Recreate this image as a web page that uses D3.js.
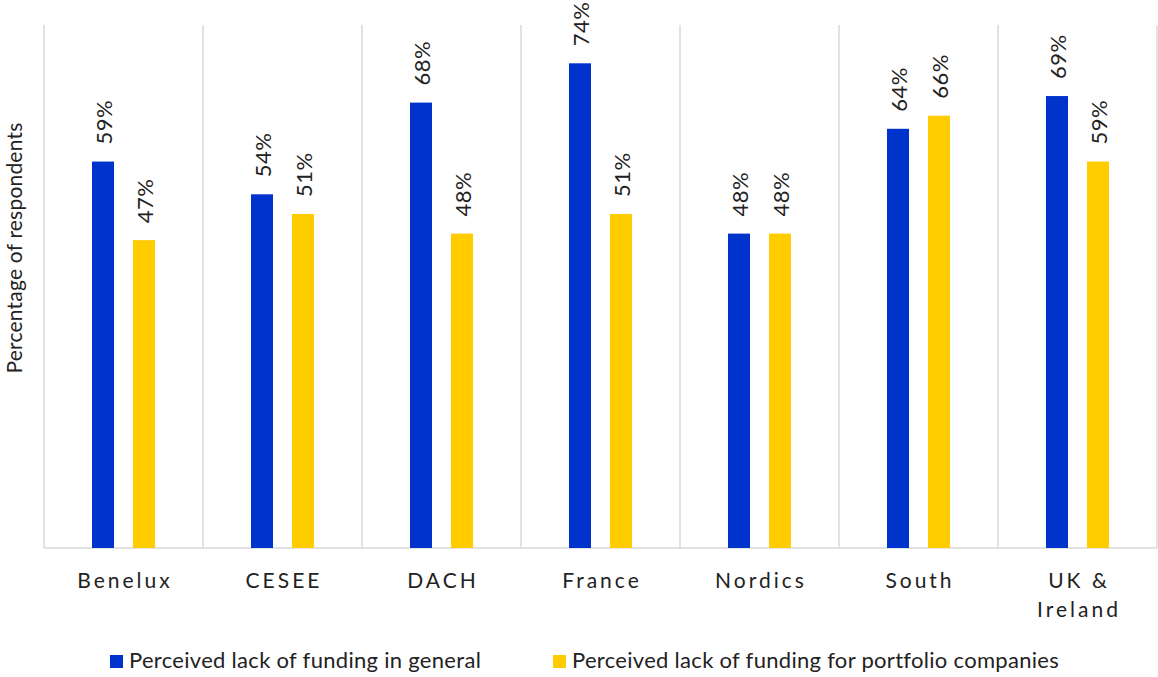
<!DOCTYPE html>
<html>
<head>
<meta charset="utf-8">
<script src="https://cdn.jsdelivr.net/npm/d3@7"></script>
<style>
  body { margin: 0; background: #fff; }
  text { font-family: Lato, "Open Sans", sans-serif; font-weight: 400; fill: #222; }
</style>
</head>
<body>
<div id="chart"></div>
<script>
// data
var regions   = ['Benelux', 'CESEE', 'DACH', 'France', 'Nordics', 'South', 'UK & Ireland']
var general   = [0.59, 0.54, 0.68, 0.74, 0.48, 0.64, 0.69]
var portfolio = [0.47, 0.51, 0.48, 0.51, 0.48, 0.66, 0.59]
var seriesNames  = ['Perceived lack of funding in general', 'Perceived lack of funding for portfolio companies']
var seriesColors = ['#0033cc', '#ffcc00']

var W = 1158, H = 677
var margin = {top: 24, right: 1, bottom: 129, left: 44}
var width  = W - margin.left - margin.right,
    height = H - margin.top - margin.bottom

var svg = d3.select('#chart').append('svg')
            .attr('width', W)
            .attr('height', H)

var g = svg.append('g')
           .attr('transform', 'translate(' + margin.left + ',' + margin.top + ')')

var x = d3.scaleBand().domain(regions).range([0, width])
var y = d3.scaleLinear().domain([0, 0.8]).range([height, 0])

var barW = 22, offset = 20.5

//vertical separators
var bounds = regions.map(function(r){ return x(r) }).concat([width])
g.selectAll('.sep')
 .data(bounds).enter()
 .append('line')
 .attr('x1', function(d){ return d }).attr('x2', function(d){ return d })
 .attr('y1', 1).attr('y2', height)
 .style('stroke', '#d9d9d9').style('stroke-width', 1.5)

//bottom axis line
g.append('line')
 .attr('x1', 0).attr('x2', width)
 .attr('y1', height).attr('y2', height)
 .style('stroke', '#d9d9d9').style('stroke-width', 1.5)

var rows = []
regions.forEach(function(r, i){
  rows.push({region: r, s: 0, v: general[i]})
  rows.push({region: r, s: 1, v: portfolio[i]})
})

function cx(d){ return x(d.region) + x.bandwidth() / 2 + (d.s == 0 ? -offset : offset) }

g.selectAll('.bar')
 .data(rows).enter()
 .append('rect')
 .attr('x', function(d){ return cx(d) - barW / 2 })
 .attr('y', function(d){ return y(d.v) })
 .attr('width', barW)
 .attr('height', function(d){ return height - y(d.v) })
 .style('fill', function(d){ return seriesColors[d.s] })

//value labels, rotated
g.selectAll('.val')
 .data(rows).enter()
 .append('text')
 .attr('transform', function(d){ return 'translate(' + (cx(d) + 8.5) + ',' + (y(d.v) - 17) + ') rotate(-90)' })
 .attr('text-anchor', 'start')
 .style('font-size', '22px')
 .style('letter-spacing', '0.5px')
 .text(function(d){ return Math.round(d.v * 100) + '%' })

//category labels
var cat = g.selectAll('.cat')
 .data(regions).enter()
 .append('text')
 .attr('x', function(d){ return x(d) + x.bandwidth() / 2 + 1.5 })
 .attr('y', height + 40)
 .attr('text-anchor', 'middle')
 .style('font-size', '21px')
 .style('letter-spacing', '3px')

cat.each(function(d){
  var t = d3.select(this)
  var parts = d == 'UK & Ireland' ? ['UK &', 'Ireland'] : [d]
  parts.forEach(function(p, i){
    t.append('tspan')
     .attr('x', x(d) + x.bandwidth() / 2 + 1.5)
     .attr('dy', i == 0 ? 0 : 29)
     .text(p)
  })
})

//y axis title
svg.append('text')
   .attr('transform', 'translate(22,' + 248 + ') rotate(-90)')
   .attr('text-anchor', 'middle')
   .style('font-size', '21px')
   .style('letter-spacing', '0.2px')
   .text('Percentage of respondents')

//legend
var legX = [110, 553]
var leg = svg.selectAll('.legend')
             .data(seriesNames).enter()
             .append('g')
             .attr('transform', function(d, i){ return 'translate(' + legX[i] + ',655)' })

leg.append('rect')
   .attr('width', 13).attr('height', 13)
   .style('fill', function(d, i){ return seriesColors[i] })

leg.append('text')
   .attr('x', 19)
   .attr('y', 13)
   .style('font-size', '22px')
   .style('letter-spacing', '0.3px')
   .text(String)
</script>
</body>
</html>
